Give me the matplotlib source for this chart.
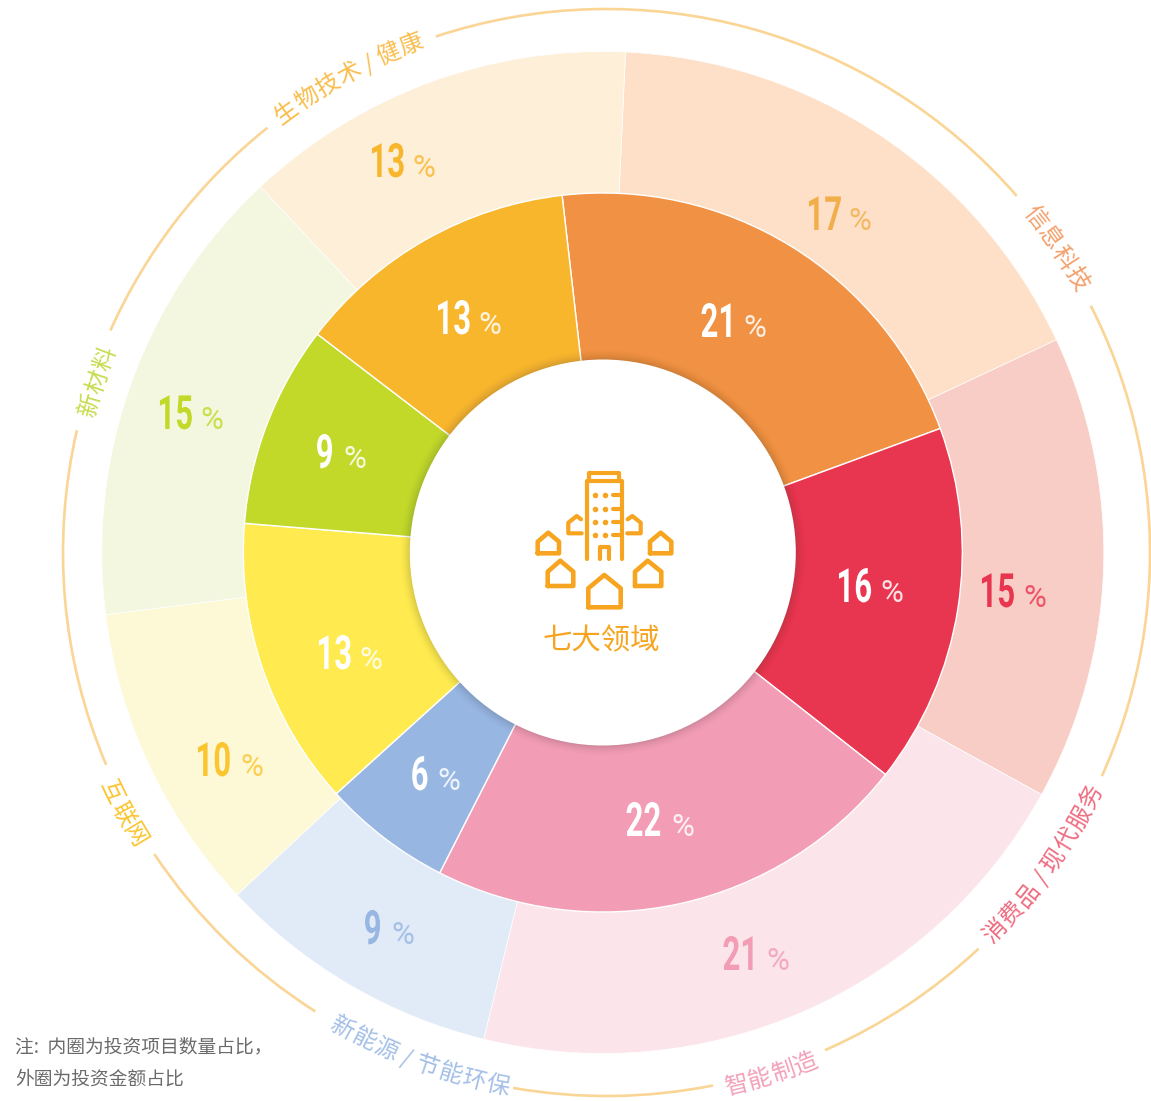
import numpy as np
import matplotlib
matplotlib.use("Agg")
import matplotlib.pyplot as plt
from matplotlib.patches import Arc, Circle
from matplotlib.patheffects import AbstractPathEffect
from matplotlib.transforms import Affine2D

CJK = ['Noto Sans CJK SC', 'DejaVu Sans']

# ---- data: clockwise from the start of 信息科技
sectors = ['信息科技', '消费品 / 现代服务', '智能制造', '新能源 / 节能环保', '互联网', '新材料', '生物技术 / 健康']
inner_labels = [21, 16, 22, 6, 13, 9, 13]          # printed: project count share
outer_labels = [17, 15, 21, 9, 10, 15, 13]         # printed: amount share
inner_sweep = [21.2, 16.2, 21.9, 5.8, 13.0, 9.1, 12.8]   # slice sizes as drawn
outer_sweep = [17.3, 15.0, 20.8, 9.2, 10.0, 15.0, 12.7]
center_title = '七大领域'
note_lines = ['注:  内圈为投资项目数量占比，', '外圈为投资金额占比']

# ---- styles
inner_colors = ['#F19143', '#E93650', '#F29CB5', '#97B6E2', '#FFEB50', '#C2D929', '#F8B62D']
outer_colors = ['#FDE0C7', '#F8CDC6', '#FBE4EA', '#E1EAF7', '#FDF9D7', '#F3F7DF', '#FEF0D8']
outer_text_colors = ['#F2AE4B', '#E93650', '#F29CB5', '#97B6E2', '#FBC52F', '#C2D929', '#F8B62D']
sector_colors = ['#F4A06B', '#EE6B80', '#F3A0B9', '#A5C0E8', '#FBC530', '#C8DC50', '#F9BE4E']
ARC_COLOR = '#FAD595'
ICON = '#F7A520'

# ---- layout (pixels)
W, H = 1151, 1101
CX, CY = 602.8, 552.5
R_HOLE, R_IN, R_OUT = 193, 359.5, 501
INNER_START, OUTER_START = -6.5, 2.6
ACX, ACY, AR = 606.5, 552.5, 543.5
arc_spans = [(-18.3, 49.0), (63.0, 114.3), (136.8, 156.3), (168.7, 189.9),
             (212.4, 236.3), (247.0, 283.0), (294.1, 321.4)]
sector_angle = [55.9, 125.5, 162.5, 200.3, 241.6, 288.5, 331.5]
sector_flip = [False, True, True, True, True, False, False]
sector_dr = [0, 0, 5, 1, 7, -7, 0]
# number centre x, baseline y, percent centre x
inner_pos = [(719, 337, 755), (855, 602, 892), (644, 836, 683), (420, 790, 449),
             (335, 669, 371), (325, 468, 355), (454, 334, 490)]
outer_pos = [(825, 230, 860), (998, 607, 1035), (741, 970, 778), (373, 944, 403),
             (214, 776, 252), (176, 429, 212), (388, 177, 424)]

fig = plt.figure(figsize=(W / 100, H / 100), dpi=100, facecolor='white')
ax = fig.add_axes([0, 0, 1, 1])
ax.set_xlim(0, W)
ax.set_ylim(H, 0)


def ring(values, colors, start, radius, width, z, lw):
    # y axis is inverted, so counterclock=True reads clockwise on screen
    wedges, _ = ax.pie(values, colors=colors, startangle=start - 90, counterclock=True,
                       radius=radius, center=(CX, CY), frame=True, normalize=True,
                       wedgeprops=dict(width=width, edgecolor='white', linewidth=lw))
    for w in wedges:
        w.set_zorder(z)


ring(outer_sweep, outer_colors, OUTER_START, R_OUT, R_OUT - R_IN + 2, 1, 0.5)
ring(inner_sweep, inner_colors, INNER_START, R_IN, R_IN - R_HOLE + 2, 2, 1.0)
ax.set_xlim(0, W)
ax.set_ylim(H, 0)
ax.set_aspect('equal')
ax.set_axis_off()

# soft shadow around the white hub
for r, a in zip(np.arange(203, 192, -1.0), np.linspace(0.003, 0.032, 11)):
    ax.add_patch(Circle((CX, CY), r, fc='#333333', ec='none', alpha=a, zorder=3))
ax.add_patch(Circle((CX, CY), R_HOLE, fc='white', ec='none', zorder=4))

# outer broken ring
for a1, a2 in arc_spans:
    ax.add_patch(Arc((ACX, ACY), 2 * AR, 2 * AR, theta1=a1 - 90, theta2=a2 - 90,
                     color=ARC_COLOR, lw=1.9, zorder=5))


def adv(ch):
    return {' ': 0.2, '/': 0.4}.get(ch, 1.0) * 24.5


def arc_text(s, mid, flip, color, dr):
    total = sum(adv(c) for c in s)
    d = -total / 2
    r = AR + dr
    for ch in s:
        step = adv(ch)
        off = np.degrees((d + step / 2) / r)
        a = mid - off if flip else mid + off
        d += step
        if ch == ' ':
            continue
        rad = np.radians(a)
        rot = 180 - a if flip else -a
        ax.text(ACX + r * np.sin(rad), ACY - r * np.cos(rad), ch, family=CJK, fontsize=17,
                color=color, rotation=rot, rotation_mode='anchor', ha='center', va='center',
                zorder=6)


for s, a, fl, c, dr in zip(sectors, sector_angle, sector_flip, sector_colors, sector_dr):
    arc_text(s, a, fl, c, dr)


class Squeeze(AbstractPathEffect):
    """Narrow the glyphs horizontally about x0 (condensed look, still real text)."""

    def __init__(self, sx, x0):
        super().__init__()
        self.sx, self.x0 = sx, x0

    def draw_path(self, renderer, gc, tpath, affine, rgbFace=None):
        t = affine + Affine2D().translate(-self.x0, 0).scale(self.sx, 1).translate(self.x0, 0)
        renderer.draw_path(gc, tpath, t, rgbFace)


def value_label(v, pos, color, pct_color):
    x, y, px = pos
    s = str(v)
    right = x + len(s) * 8.6          # right edge of the narrowed number
    ax.text(right, y, s, family='Roboto', weight='bold', fontsize=34, color=color,
            ha='right', va='baseline', zorder=7,
            path_effects=[Squeeze(0.66, right)])
    ax.text(px, y, '%', family='Roboto', fontsize=22.5, color=pct_color,
            ha='center', va='baseline', zorder=7)


for v, p in zip(inner_labels, inner_pos):
    value_label(v, p, 'white', '#FFFFFFD9')
for v, p, c in zip(outer_labels, outer_pos, outer_text_colors):
    value_label(v, p, c, c + 'CC')

# hub icon
icon_lines = [
    [(589.3, 480), (589.3, 472.7), (619.3, 472.7), (619.3, 480)],
    [(586.7, 559.3), (586.7, 481), (622, 481), (622, 559.3)],
    [(600, 559.3), (600, 546.7), (609.3, 546.7), (609.3, 559.3)],
    [(581, 519.3), (576.7, 516), (568.3, 522.7), (568.3, 533.3), (581.7, 533.3)],
    [(627.7, 519.3), (632.3, 516), (640.7, 522.7), (640.7, 533.3), (627.3, 533.3)],
]
icon_houses = [
    [(537.7, 553.3), (537.7, 541.7), (548.3, 532.7), (559, 541.7), (559, 553.3)],
    [(650, 553.3), (650, 541.7), (660.7, 532.7), (671.3, 541.7), (671.3, 553.3)],
    [(547.7, 586), (547.7, 571.7), (560.3, 560.7), (573.3, 571.7), (573.3, 586)],
    [(635, 586), (635, 571.7), (647.7, 560.7), (661.3, 571.7), (661.3, 586)],
    [(588.3, 607.3), (588.3, 588.3), (604.3, 575), (620.7, 588.3), (620.7, 607.3)],
]
for pts in icon_lines:
    xs, ys = zip(*pts)
    ax.plot(xs, ys, color=ICON, lw=3.0, solid_capstyle='round', solid_joinstyle='round', zorder=8)
for pts in icon_houses:
    xs, ys = zip(*(pts + pts[:1]))
    ax.plot(xs, ys, color=ICON, lw=3.3, solid_capstyle='round', solid_joinstyle='round', zorder=8)
for wy in (495, 508.7, 521.7, 535):
    ax.plot([595, 605], [wy, wy], ls='none', marker='o', ms=4, color=ICON, mec='none', zorder=8)
    ax.plot([612.7, 620], [wy, wy], color=ICON, lw=3.0, solid_capstyle='round', zorder=8)

ax.text(601, 641, center_title, family=CJK, fontsize=21.2, color=ICON, ha='center', va='center', zorder=8)
for line, y in zip(note_lines, (1047, 1079)):
    ax.text(15, y, line, family=CJK, fontsize=13.5, color='#6A6A6A', ha='left', va='center', zorder=8)

fig.savefig('out.png', dpi=100, facecolor='white')
